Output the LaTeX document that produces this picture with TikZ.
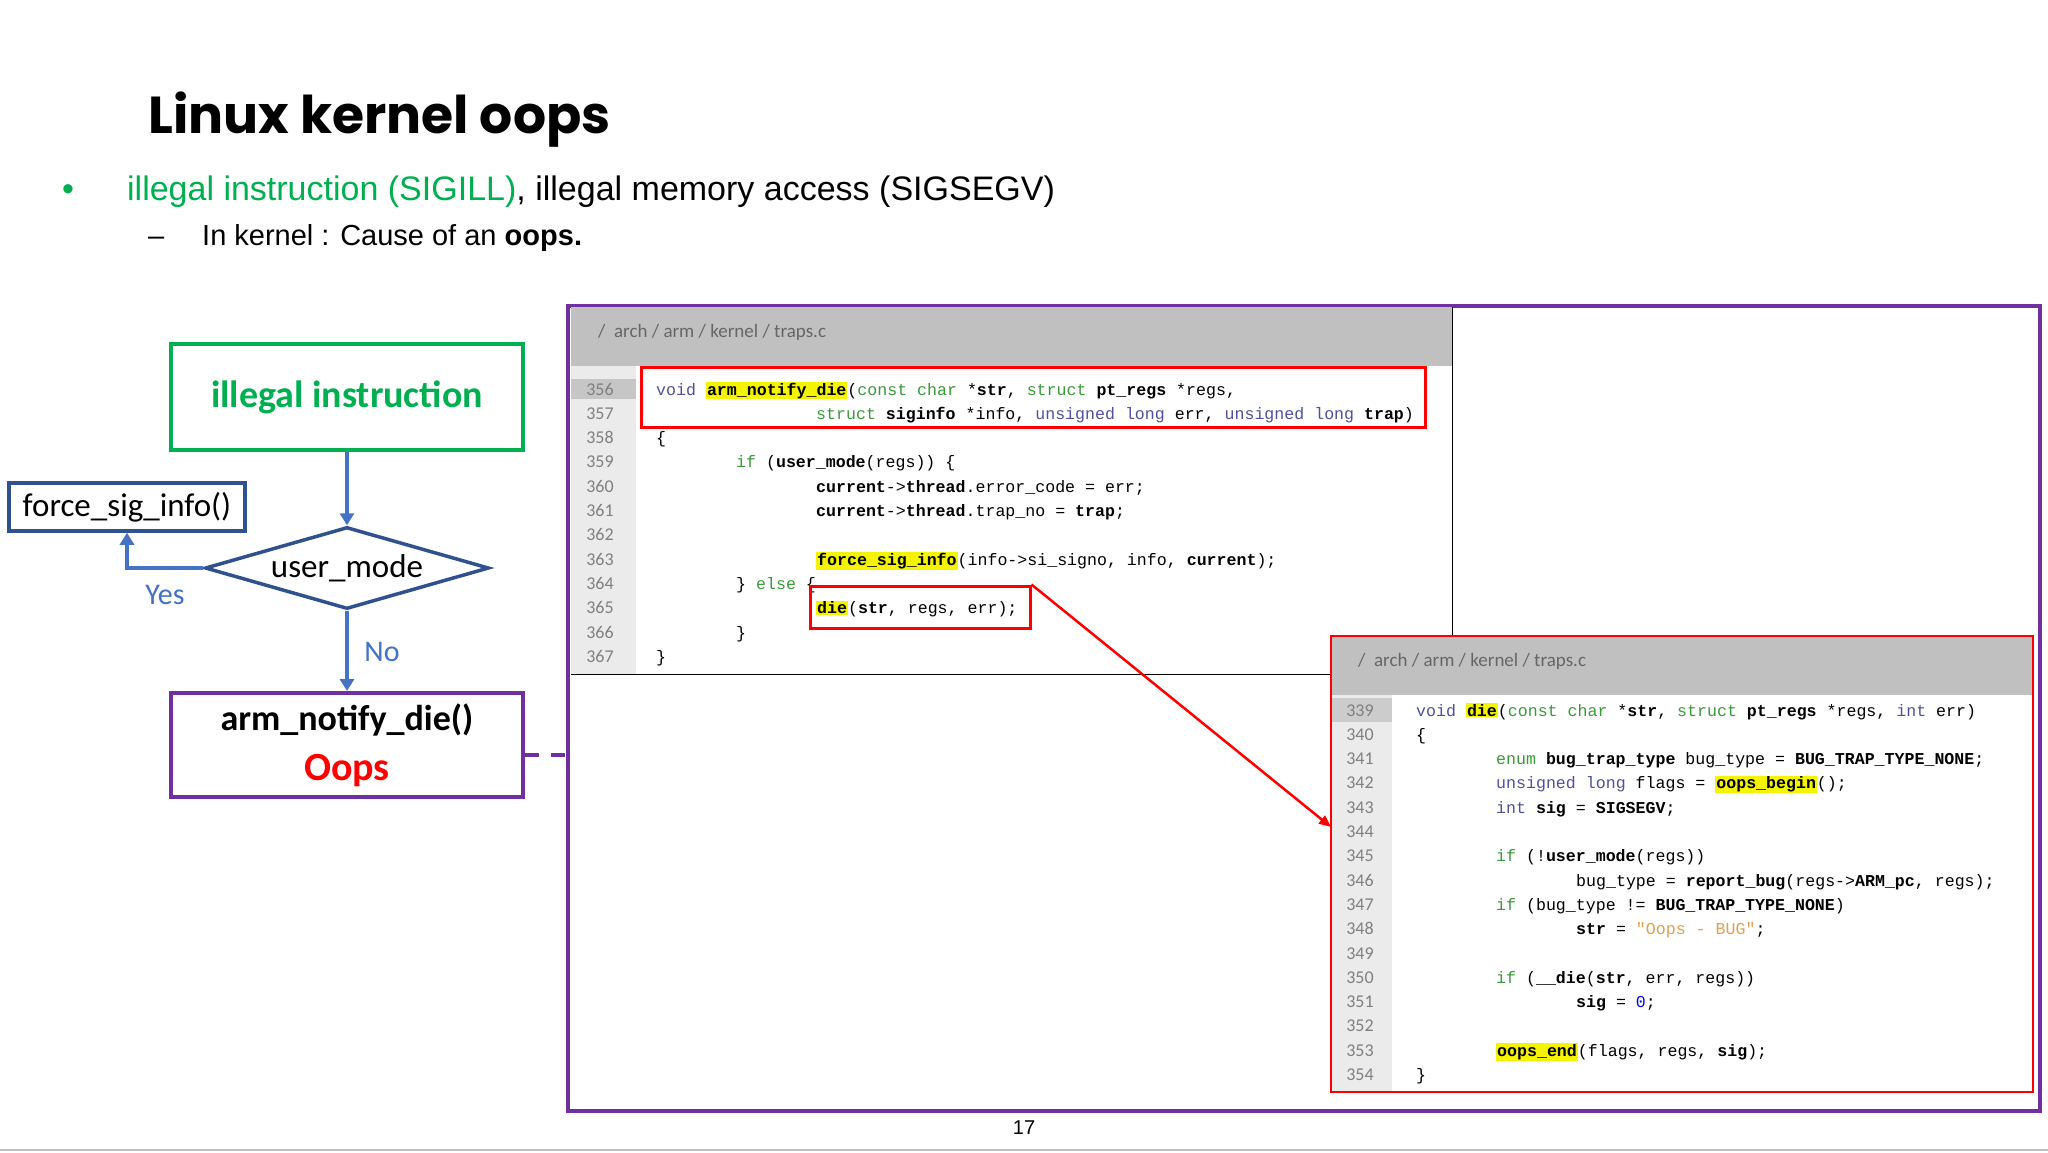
\documentclass[tikz,border=0pt]{standalone}
\usepackage{fontspec}
\setmainfont{Liberation Sans}
\newfontfamily\codefont{Liberation Mono}
\newfontfamily\carl{Carlito}
\newfontfamily\tfont{Poppins}
\usetikzlibrary{arrows.meta,shapes.geometric}
\definecolor{kwb}{HTML}{5050A0}
\definecolor{kwg}{HTML}{3A9A3A}
\definecolor{strc}{HTML}{E0A050}
\definecolor{ppl}{HTML}{7030A0}
\definecolor{flow}{HTML}{4472C4}
\definecolor{dblue}{HTML}{2F528F}
\definecolor{ggreen}{HTML}{00B050}
\definecolor{hdr}{HTML}{C0C0C0}
\definecolor{lnbg}{HTML}{EBEBEB}
\definecolor{hly}{HTML}{F4F400}
\newcommand{\K}[1]{\textcolor{kwb}{#1}}
\newcommand{\G}[1]{\textcolor{kwg}{#1}}
\newcommand{\B}[1]{\textbf{#1}}
\newcommand{\Hl}[1]{{\setlength\fboxsep{1pt}\colorbox{hly}{\textbf{#1}}}}
\newcommand{\Sq}[1]{\textcolor{strc}{#1}}
\tikzset{
  code/.style={anchor=base west,inner sep=0pt,font=\codefont\fontsize{16.6}{18}\selectfont},
  lnum/.style={anchor=base,inner sep=0pt,text=gray,font=\carl\fontsize{18}{20}\selectfont},
  hdrtext/.style={anchor=west,inner sep=0pt,text=gray!80!black,font=\carl\fontsize{19}{22}\selectfont},
  farrow/.style={draw=flow,line width=3.5pt,-{Triangle[length=12pt,width=14pt]}},
  redbox/.style={draw=red,line width=3pt},
}
\begin{document}
\begin{tikzpicture}[x=1pt,y=-1pt]
\useasboundingbox (0,0) rectangle (2048,1152);
\fill[white] (0,0) rectangle (2048,1152);
% title
\node[anchor=base west,inner sep=0pt,font=\tfont\bfseries\fontsize{52}{60}\selectfont] (title) at (148,133) {Linux kernel oops};
\node[anchor=base west,inner sep=0pt,text=ggreen,font=\fontsize{34}{40}\selectfont] (bul) at (62,200) {•};
\node[anchor=base west,inner sep=0pt,font=\fontsize{34}{40}\selectfont] (l1) at (127,200) {\textcolor{ggreen}{illegal instruction (SIGILL)}, illegal memory access (SIGSEGV)};
\node[anchor=base west,inner sep=0pt,font=\fontsize{29}{34}\selectfont] (dash) at (148,245) {–};
\node[anchor=base west,inner sep=0pt,font=\fontsize{29}{34}\selectfont] (l2) at (202,245) {In kernel : Cause of an \textbf{oops.}};
% flowchart
\node[draw=ggreen,line width=4pt,minimum width=352pt,minimum height=106pt,text=ggreen,font=\carl\bfseries\fontsize{38}{44}\selectfont] (ill) at (347,397) {illegal instruction};
\node[draw=dblue,line width=3.5pt,minimum width=236pt,minimum height=48pt,font=\carl\fontsize{33}{38}\selectfont] (fsi) at (127,507) {force\_sig\_info()};
\node[draw=dblue,line width=3.5pt,diamond,aspect=3.5,minimum width=284pt,minimum height=82pt,inner sep=0pt,font=\carl\fontsize{33}{38}\selectfont] (um) at (347,568) {user\_mode};
\node[draw=ppl,line width=4pt,minimum width=352pt,minimum height=104pt,align=center,font=\carl\bfseries\fontsize{36}{50}\selectfont] (and) at (347,745) {arm\_notify\_die()\\\textcolor{red}{\fontsize{40}{50}\selectfont Oops}};
\draw[farrow] (ill.south) -- (um.north);
\draw[farrow] (um.west) -| (fsi.south);
\draw[farrow] (um.south) -- (and.north);
\node[text=flow,font=\carl\fontsize{30}{34}\selectfont] (yes) at (165,595) {Yes};
\node[text=flow,font=\carl\fontsize{30}{34}\selectfont] (no) at (382,652) {No};
% frame
\draw[ppl,line width=4pt] (568,306) rectangle (2040,1111);
\coordinate (fl) at (568,755);
\draw[ppl,line width=4pt,dashed,dash pattern=on 14pt off 12pt] (and.east |- fl) -- (fl);
% panel 1
\fill[hdr] (571,307) rectangle (1452,366);
\fill[lnbg] (571,366) rectangle (636,674);
\fill[gray!45] (571,379) rectangle (636,399);
\draw[black,line width=1pt] (1452,307) -- (1452,674) -- (571,674);
\node[hdrtext] (h1) at (598,332) {/ \ arch / arm / kernel / traps.c};
\foreach \n [count=\i from 0] in {356,...,367}
  \node[lnum] at (600,395+24.3*\i) {\n};
\def\ya#1{395+24.3*(#1-356)}
\node[code] at (656,{\ya{356}}) {\K{void} \Hl{arm\_notify\_die}(\G{const} \G{char} *\B{str}, \G{struct} \B{pt\_regs} *regs,};
\node[code] at (816,{\ya{357}}) {\G{struct} \B{siginfo} *info, \K{unsigned} \K{long} err, \K{unsigned} \K{long} \B{trap})};
\node[code] at (656,{\ya{358}}) {\{};
\node[code] at (736,{\ya{359}}) {\G{if} (\B{user\_mode}(regs)) \{};
\node[code] at (816,{\ya{360}}) {\B{current}->\B{thread}.error\_code = err;};
\node[code] at (816,{\ya{361}}) {\B{current}->\B{thread}.trap\_no = \B{trap};};
\node[code] at (816,{\ya{363}}) {\Hl{force\_sig\_info}(info->si\_signo, info, \B{current});};
\node[code] at (736,{\ya{364}}) {\} \G{else} \{};
\node[code] at (816,{\ya{365}}) {\Hl{die}(\B{str}, regs, err);};
\node[code] at (736,{\ya{366}}) {\}};
\node[code] at (656,{\ya{367}}) {\}};
\node[redbox,minimum width=784pt,minimum height=60pt] (rb1) at (1033,397) {};
\node[redbox,minimum width=220pt,minimum height=42pt] (rb2) at (920,607) {};
% panel 2
\fill[white] (1331,636) rectangle (2033,1092);
\fill[hdr] (1331,636) rectangle (2033,695);
\fill[lnbg] (1331,695) rectangle (1392,1092);
\fill[gray!40] (1331,698) rectangle (1392,722);
\draw[red,line width=1.5pt] (1331,636) rectangle (2033,1092);
\node[hdrtext] (h2) at (1358,661) {/ \ arch / arm / kernel / traps.c};
\foreach \n [count=\i from 0] in {339,...,354}
  \node[lnum] at (1360,716+24.3*\i) {\n};
\def\yb#1{716+24.3*(#1-339)}
\node[code] at (1416,{\yb{339}}) {\K{void} \Hl{die}(\G{const} \G{char} *\B{str}, \G{struct} \B{pt\_regs} *regs, \K{int} err)};
\node[code] at (1416,{\yb{340}}) {\{};
\node[code] at (1496,{\yb{341}}) {\G{enum} \B{bug\_trap\_type} bug\_type = \B{BUG\_TRAP\_TYPE\_NONE};};
\node[code] at (1496,{\yb{342}}) {\K{unsigned} \K{long} flags = \Hl{oops\_begin}();};
\node[code] at (1496,{\yb{343}}) {\K{int} \B{sig} = \B{SIGSEGV};};
\node[code] at (1496,{\yb{345}}) {\G{if} (!\B{user\_mode}(regs))};
\node[code] at (1576,{\yb{346}}) {bug\_type = \B{report\_bug}(regs->\B{ARM\_pc}, regs);};
\node[code] at (1496,{\yb{347}}) {\G{if} (bug\_type != \B{BUG\_TRAP\_TYPE\_NONE})};
\node[code] at (1576,{\yb{348}}) {\B{str} = \Sq{"Oops - BUG"};};
\node[code] at (1496,{\yb{350}}) {\G{if} (\B{\_\_die}(\B{str}, err, regs))};
\node[code] at (1576,{\yb{351}}) {\B{sig} = \textcolor{blue}{0};};
\node[code] at (1496,{\yb{353}}) {\Hl{oops\_end}(flags, regs, \B{sig});};
\node[code] at (1416,{\yb{354}}) {\}};
\coordinate (p2in) at (1331,827);
\draw[red,line width=2.5pt,-{Triangle[length=12pt,width=10pt]}] (rb2.north east) -- (p2in);
% footer
\node[font=\fontsize{20}{24}\selectfont] (pg) at (1024,1128) {17};
\draw[gray!50,line width=2pt] (0,1150) -- (2048,1150);
\end{tikzpicture}
\end{document}
